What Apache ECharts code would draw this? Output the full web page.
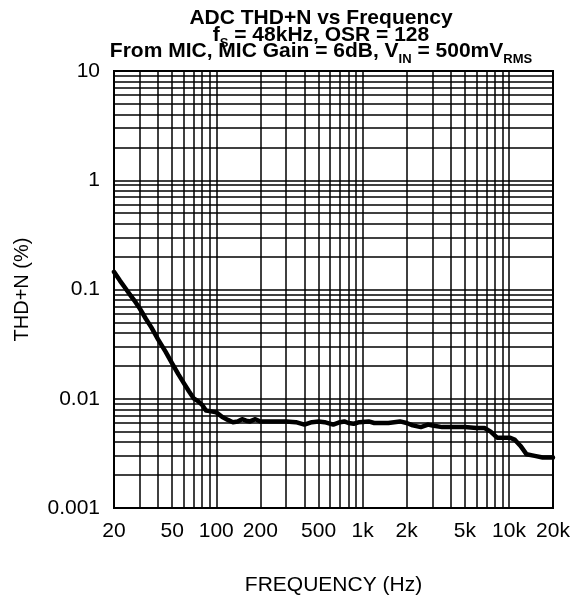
<!DOCTYPE html>
<html>
<head>
<meta charset="utf-8">
<script src="https://cdn.jsdelivr.net/npm/echarts@6/dist/echarts.min.js"></script>
<style>
html,body{margin:0;padding:0;background:#fff;}
#chart{width:581px;height:601px;}
</style>
</head>
<body>
<div id="chart"></div>
<script>
// Frequency (Hz)
const freq = [20,22,24,26,28,30,33,36,40,45,50,55,60,65,70,75,80,85,90,100,110,120,130,140,150,160,170,185,200,250,300,350,400,450,500,550,630,700,750,800,870,950,1100,1200,1500,1800,2000,2200,2500,2800,3000,3500,4000,5000,6000,6800,7500,8300,9500,10200,11000,12000,13200,15000,17000,20000];
// THD+N (%)
const thdn = [0.145,0.12,0.102,0.088,0.077,0.067,0.054,0.045,0.035,0.027,0.021,0.0168,0.0139,0.0117,0.0101,0.0095,0.0088,0.0078,0.0077,0.0075,0.0068,0.0064,0.0061,0.0062,0.0065,0.0063,0.0062,0.0065,0.0062,0.0062,0.0062,0.0061,0.0058,0.0061,0.0062,0.0061,0.0058,0.0061,0.0062,0.0060,0.0059,0.0061,0.0062,0.0060,0.0060,0.0062,0.0060,0.0057,0.0055,0.0058,0.0057,0.0055,0.0055,0.0055,0.0054,0.0054,0.0050,0.0044,0.0044,0.0044,0.0042,0.0037,0.0031,0.0030,0.0029,0.0029];

const xTicks = [20,50,100,200,500,1000,2000,5000,10000,20000];
const xTickLabels = ['20','50','100','200','500','1k','2k','5k','10k','20k'];
const yTicks = [0.001,0.01,0.1,1,10];
const yTickLabels = ['0.001','0.01','0.1','1','10'];
const xGrid = [20,30,40,50,60,70,80,90,100,200,300,400,500,600,700,800,900,1000,2000,3000,4000,5000,6000,7000,8000,9000,10000,20000];
const yGrid = [0.001,0.002,0.003,0.004,0.005,0.006,0.007,0.008,0.009,0.01,0.02,0.03,0.04,0.05,0.06,0.07,0.08,0.09,0.1,0.2,0.3,0.4,0.5,0.6,0.7,0.8,0.9,1,2,3,4,5,6,7,8,9,10];

const FONT = '"Liberation Sans", Arial, Helvetica, sans-serif';

function labelFor(ticks, labels, v) {
  for (let i = 0; i < ticks.length; i++) {
    if (Math.abs(ticks[i] - v) / ticks[i] < 1e-6) return labels[i];
  }
  return '';
}

const chart = echarts.init(document.getElementById('chart'), null, {renderer: 'canvas'});
const mainStyle = {fontFamily: FONT, fontWeight: 'bold', fontSize: 21, lineHeight: 21, color: '#000', verticalAlign: 'top'};
const subStyle = {fontFamily: FONT, fontWeight: 'bold', fontSize: 13, lineHeight: 13, color: '#000', verticalAlign: 'top', padding: [12, 0, 0, 0]};

chart.setOption({
  animation: false,
  backgroundColor: '#fff',
  title: [
    {
      text: 'ADC THD+N vs Frequency',
      left: 321, top: 8, padding: 0, textAlign: 'center',
      textStyle: {fontFamily: FONT, fontWeight: 'bold', fontSize: 21, lineHeight: 21, color: '#000'}
    },
    {
      text: '{m|f}{s|S}{m| = 48kHz, OSR = 128}',
      left: 321, top: 25, padding: 0, textAlign: 'center',
      textStyle: {rich: {m: mainStyle, s: subStyle}}
    },
    {
      text: '{m|From MIC, MIC Gain = 6dB, V}{s|IN}{m| = 500mV}{s|RMS}',
      left: 321, top: 41, padding: 0, textAlign: 'center',
      textStyle: {rich: {m: mainStyle, s: subStyle}}
    }
  ],
  grid: {
    left: 114, right: 28, top: 71, bottom: 90,
    show: true, borderColor: '#000', borderWidth: 2, backgroundColor: 'transparent'
  },
  xAxis: {
    type: 'log', logBase: 10, min: 20, max: 20000,
    name: 'FREQUENCY (Hz)', nameLocation: 'middle', nameGap: 67,
    nameTextStyle: {fontFamily: FONT, fontSize: 21, color: '#000'},
    axisLine: {show: true, lineStyle: {color: '#000', width: 2}},
    axisTick: {show: false, customValues: xGrid},
    axisLabel: {
      customValues: xTicks, margin: 13,
      fontFamily: FONT, fontSize: 21, color: '#000',
      formatter: v => labelFor(xTicks, xTickLabels, v)
    },
    splitLine: {show: true, lineStyle: {color: '#000', width: 1.5}},
    minorTick: {show: false}, minorSplitLine: {show: false}
  },
  yAxis: {
    type: 'log', logBase: 10, min: 0.001, max: 10,
    name: 'THD+N (%)', nameLocation: 'middle', nameGap: 82, nameRotate: 90,
    nameTextStyle: {fontFamily: FONT, fontSize: 20, color: '#000'},
    axisLine: {show: true, lineStyle: {color: '#000', width: 2}},
    axisTick: {show: false, customValues: yGrid},
    axisLabel: {
      customValues: yTicks, margin: 14,
      fontFamily: FONT, fontSize: 21, color: '#000',
      formatter: v => labelFor(yTicks, yTickLabels, v)
    },
    splitLine: {show: true, lineStyle: {color: '#000', width: 1.5}},
    minorTick: {show: false}, minorSplitLine: {show: false}
  },
  series: [{
    type: 'line',
    data: freq.map((f, i) => [f, thdn[i]]),
    showSymbol: false, symbol: 'none',
    smooth: false,
    lineStyle: {color: '#000', width: 4.5, join: 'round', cap: 'round'},
    z: 5
  }]
});
</script>
</body>
</html>
